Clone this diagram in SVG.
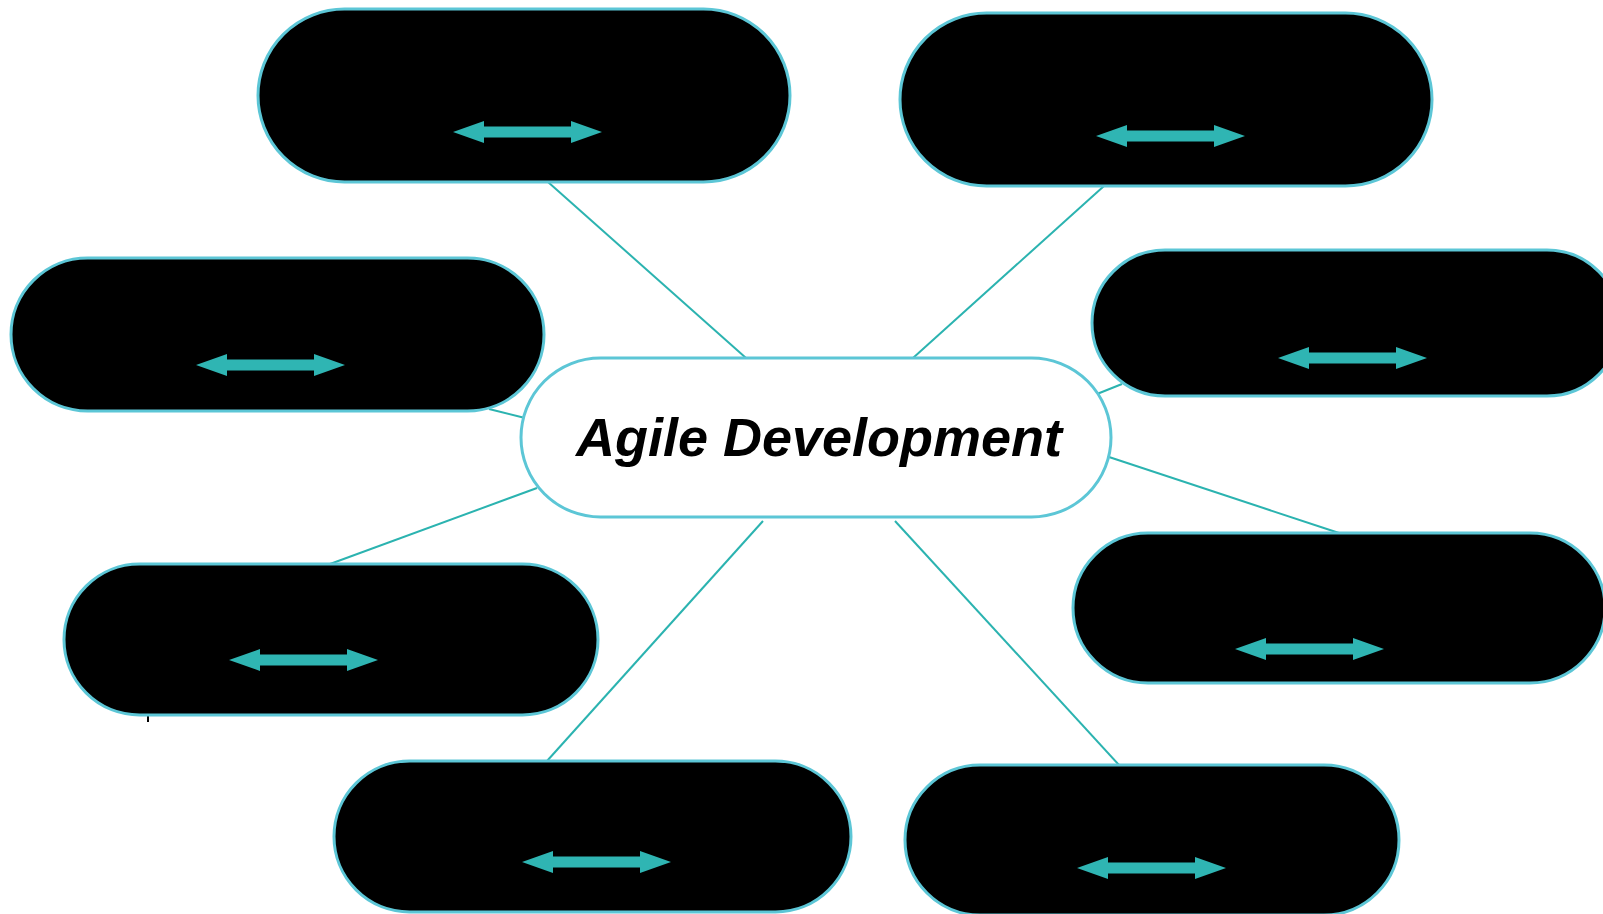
<svg xmlns="http://www.w3.org/2000/svg" width="1603" height="914" viewBox="0 0 1603 914">
<defs>
<style>
.node{fill:#000000;stroke:#5cc6d6;stroke-width:3}
.center{fill:#ffffff;stroke:#5cc6d6;stroke-width:3}
.conn{stroke:#2bb3b0;stroke-width:2;fill:none}
.dbl{fill:#2fb5b3}
.title{font-family:"Liberation Sans",Arial,sans-serif;font-weight:bold;font-style:italic;font-size:54px;fill:#000000}
</style>
<polygon id="dblarrow" points="0,0 31,-11 31,-5.5 118,-5.5 118,-11 149,0 118,11 118,5.5 31,5.5 31,11"/>
</defs>
<rect width="1603" height="914" fill="#ffffff"/>
<g id="connectors">
<line class="conn" x1="548" y1="182" x2="746" y2="358"/>
<line class="conn" x1="1104" y1="186" x2="913" y2="358"/>
<line class="conn" x1="1122" y1="384" x2="1097" y2="394"/>
<line class="conn" x1="489" y1="409" x2="525" y2="418"/>
<line class="conn" x1="537" y1="488" x2="330" y2="564"/>
<line class="conn" x1="1109" y1="457" x2="1339" y2="533"/>
<line class="conn" x1="763" y1="521" x2="547" y2="761"/>
<line class="conn" x1="895" y1="521" x2="1119" y2="765"/>
</g>
<g id="node-top-left">
<rect class="node" x="258" y="9" width="532" height="173" rx="86.5"/>
<use href="#dblarrow" class="dbl" x="453" y="132"/>
</g>
<g id="node-top-right">
<rect class="node" x="900" y="13" width="532" height="173" rx="86.5"/>
<use href="#dblarrow" class="dbl" x="1096" y="136"/>
</g>
<g id="node-right-1">
<rect class="node" x="1092" y="250" width="528" height="146" rx="73"/>
<use href="#dblarrow" class="dbl" x="1278" y="358"/>
</g>
<g id="node-left-1">
<rect class="node" x="11" y="258" width="533" height="153" rx="76.5"/>
<use href="#dblarrow" class="dbl" x="196" y="365"/>
</g>
<g id="node-left-2">
<rect x="147" y="710" width="2" height="12" fill="#000000"/>
<rect class="node" x="64" y="564" width="534" height="151" rx="75.5"/>
<use href="#dblarrow" class="dbl" x="229" y="660"/>
</g>
<g id="node-right-2">
<rect class="node" x="1073" y="533" width="532" height="150" rx="75"/>
<use href="#dblarrow" class="dbl" x="1235" y="649"/>
</g>
<g id="node-bottom-1">
<rect class="node" x="334" y="761" width="517" height="151" rx="75.5"/>
<use href="#dblarrow" class="dbl" x="522" y="862"/>
</g>
<g id="node-bottom-2">
<rect class="node" x="905" y="765" width="494" height="150" rx="75"/>
<use href="#dblarrow" class="dbl" x="1077" y="868"/>
</g>
<g id="node-center">
<rect class="center" x="521" y="358" width="590" height="159" rx="79.5"/>
<text class="title" x="819" y="456" text-anchor="middle">Agile Development</text>
</g>
</svg>
